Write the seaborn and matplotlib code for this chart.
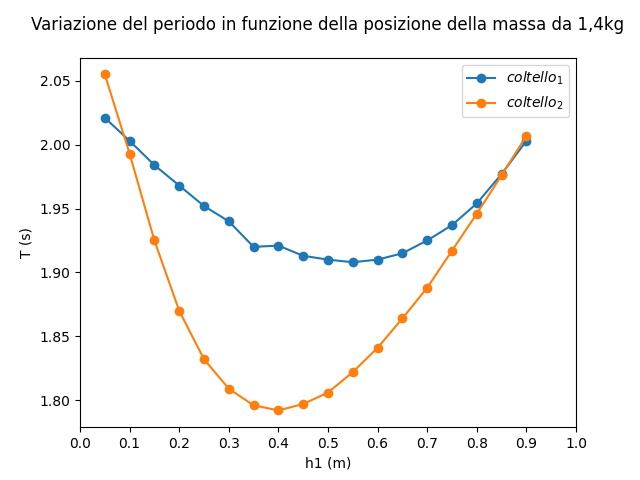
import numpy as np
import matplotlib
matplotlib.use('Agg')
import matplotlib.pyplot as plt
import seaborn as sns

# Posizione della massa (m)
h1 = [0.05, 0.10, 0.15, 0.20, 0.25, 0.30, 0.35, 0.40, 0.45, 0.50,
      0.55, 0.60, 0.65, 0.70, 0.75, 0.80, 0.85, 0.90]
# Periodo misurato sui due coltelli (s)
t_coltello1 = [2.021, 2.003, 1.984, 1.968, 1.952, 1.940, 1.920, 1.921, 1.913, 1.910,
               1.908, 1.910, 1.915, 1.925, 1.937, 1.954, 1.977, 2.003]
t_coltello2 = [2.055, 1.993, 1.925, 1.870, 1.832, 1.809, 1.796, 1.792, 1.797, 1.806,
               1.822, 1.841, 1.864, 1.888, 1.917, 1.946, 1.976, 2.007]

fig, ax = plt.subplots(figsize=(6.4, 4.8), dpi=100)
sns.lineplot(x=h1, y=t_coltello1, marker='o', color='C0', label='$coltello_1$', ax=ax)
sns.lineplot(x=h1, y=t_coltello2, marker='o', color='C1', label='$coltello_2$', ax=ax)

# bordo dei marker dello stesso colore della linea
for line in ax.lines:
    line.set_markeredgecolor(line.get_color())
    line.set_markeredgewidth(1.0)
    line.set_markersize(6)

ax.set_xlim(0, 1.0)
ax.set_xticks(np.arange(0, 1.01, 0.1))
ax.set_xlabel('h1 (m)')
ax.set_ylabel('T (s)')
ax.set_title('Variazione del periodo in funzione della posizione della massa da 1,4kg', pad=20)
ax.legend(loc='upper right')

plt.savefig('out.png')
